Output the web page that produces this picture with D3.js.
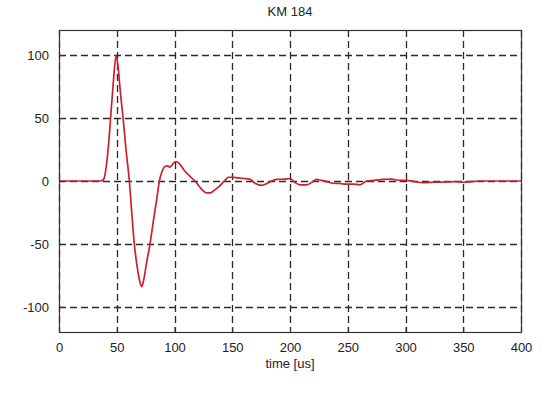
<!DOCTYPE html>
<html><head><meta charset="utf-8">
<script src="https://cdn.jsdelivr.net/npm/d3@7/dist/d3.min.js"></script>
<style>body{margin:0;background:#fff}svg{display:block}text{font-family:"Liberation Sans",Arial,sans-serif}</style>
</head><body><svg id="c" width="556" height="393"></svg>
<script>
const title = "KM 184";
const xLabel = "time [us]";
const xTicks = [0, 50, 100, 150, 200, 250, 300, 350, 400];
const yTicks = [-100, -50, 0, 50, 100];
const timeUs = [0, 10, 20, 30, 36, 38.5, 41, 43, 45, 47, 49.4, 51, 53, 55.7, 58, 60.9, 63, 65.2, 68, 70, 71.6, 73, 76, 78.8, 82, 85, 86.9, 89, 91.8, 94, 96, 98.5, 101.3, 104, 108, 113, 117.7, 122, 125, 128, 131, 135, 139, 143.7, 146.6, 150, 155, 160, 165, 170, 175.5, 180, 184, 188.5, 195, 200, 204, 208.7, 214.5, 219, 223, 227, 231.8, 237, 243, 249, 255, 260.6, 266.4, 273, 280.6, 288, 295, 301, 308, 315.4, 325, 335.6, 343, 350, 357, 364, 375, 390, 400];
const signal = [0, 0, 0, 0, 0, 1, 12, 30, 54, 78, 99.5, 92, 72, 48, 25, 0, -25, -50, -70, -80, -84, -80, -64, -50, -30, -12, 0, 7, 11.5, 12, 11, 13.5, 15.5, 14, 9, 4, 0, -5, -8, -9.5, -9.5, -7, -4, 0.5, 3, 3, 2.5, 2, 1.5, -2, -3.5, -2, 0, 1.3, 1.5, 2, -1, -3, -3, -1, 1.3, 0.5, -0.5, -1.8, -2, -2.5, -2.5, -3, 0, 0.5, 1.3, 1.5, 0.5, 0.5, -0.5, -1.3, -1, -0.8, -0.5, -1, -0.5, 0, 0, 0, 0];

const svg = d3.select("#c");
const L = 59, R = 521, T = 30, B = 332;
const x = d3.scaleLinear().domain([0, 400]).range([L, R]);
const y = d3.scaleLinear().domain([-120, 120]).range([B, T]);

// grid
const g = svg.append("g");
g.selectAll(".gx").data(xTicks).join("line")
  .attr("x1", d => Math.round(x(d)) + 0.5).attr("x2", d => Math.round(x(d)) + 0.5)
  .attr("y1", T).attr("y2", B)
  .attr("stroke", "#2a2a2a").attr("stroke-width", 1.3).attr("stroke-dasharray", "7,4");
g.selectAll(".gy").data(yTicks).join("line")
  .attr("y1", d => Math.round(y(d)) + 0.5).attr("y2", d => Math.round(y(d)) + 0.5)
  .attr("x1", L).attr("x2", R)
  .attr("stroke", "#2a2a2a").attr("stroke-width", 1.3).attr("stroke-dasharray", "7,4");

// line
const line = d3.line().x((d, i) => x(timeUs[i])).y(d => y(d)).curve(d3.curveMonotoneX);
svg.append("path").datum(signal).attr("d", line)
  .attr("fill", "none").attr("stroke", "#cc2030").attr("stroke-width", 1.7);

// axes
const fmt = d => String(d);
const xa = svg.append("g").attr("transform", `translate(0,${B})`)
  .call(d3.axisBottom(x).tickValues(xTicks).tickFormat(fmt).tickSize(-5).tickPadding(11));
const ya = svg.append("g").attr("transform", `translate(${L},0)`)
  .call(d3.axisLeft(y).tickValues(yTicks).tickFormat(fmt).tickSize(-5).tickPadding(10));
[xa, ya].forEach(a => {
  a.select(".domain").remove();
  a.selectAll("line").attr("stroke", "#333");
  a.selectAll("text").attr("font-size", 13).attr("fill", "#222");
});
svg.append("rect").attr("x", L + 0.5).attr("y", T + 0.5).attr("width", R - L).attr("height", B - T)
  .attr("fill", "none").attr("stroke", "#333").attr("stroke-width", 1.2);

svg.append("text").attr("x", (L + R) / 2).attr("y", 16).attr("text-anchor", "middle")
  .attr("font-size", 13).attr("fill", "#222").text(title);
svg.append("text").attr("x", (L + R) / 2).attr("y", 368).attr("text-anchor", "middle")
  .attr("font-size", 13).attr("fill", "#222").text(xLabel);
</script></body></html>
